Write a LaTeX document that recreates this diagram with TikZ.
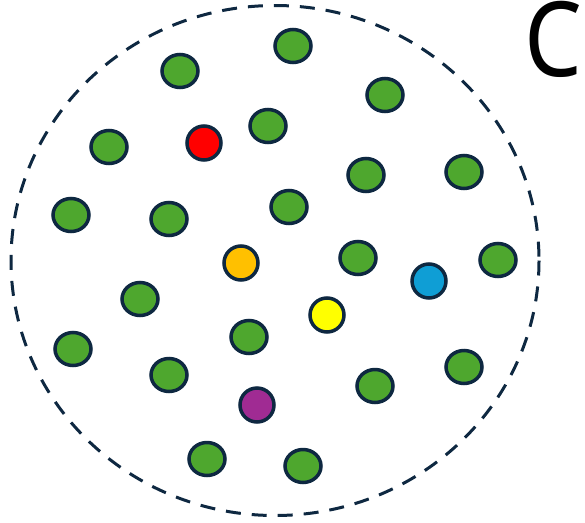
\documentclass[tikz,border=0pt]{standalone}
\usepackage{fontspec}
\newfontfamily\rotulofont{Noto Sans}
\usetikzlibrary{shapes.geometric}

\definecolor{verde}{HTML}{4EA72E}
\definecolor{contorno}{HTML}{0E2841}
\definecolor{laranja}{HTML}{FFC000}
\definecolor{amarelo}{HTML}{FFFF00}
\definecolor{azul}{HTML}{0F9ED5}
\definecolor{roxo}{HTML}{A02B93}

\begin{document}
\begin{tikzpicture}[
    x=1pt, y=-1pt,
    % Estilo dos pontos: elipse com borda escura
    ponto/.style={ellipse, draw=contorno, line width=3.5pt, inner sep=0pt,
                  minimum width=36pt, minimum height=33pt, fill=verde},
    destaque/.style={ponto, minimum width=34pt, minimum height=34pt}
]

% === PARÂMETROS DO CONJUNTO ===
\def\centroX{275}
\def\centroY{260.5}
\def\raioX{264}
\def\raioY{255}

\useasboundingbox (0,0) rectangle (585,522);

% --- Fronteira tracejada do conjunto ---
\draw[contorno, line width=3pt, dash pattern=on 15pt off 11pt]
    (\centroX,\centroY) ellipse [x radius=\raioX, y radius=\raioY];

% --- Rótulo ---
\node[inner sep=0pt, xscale=0.88, font=\rotulofont\fontsize{104}{104}\selectfont] (rotulo) at (553,39.5) {C};

% --- Pontos verdes ---
\node[ponto] (G1)  at (180, 71) {};
\node[ponto] (G2)  at (293, 46) {};
\node[ponto] (G3)  at (385, 95) {};
\node[ponto] (G4)  at (109,147) {};
\node[ponto] (G5)  at (268,126) {};
\node[ponto] (G6)  at (366,175) {};
\node[ponto] (G7)  at (464,172) {};
\node[ponto] (G8)  at ( 71,215) {};
\node[ponto] (G9)  at (169,219) {};
\node[ponto] (G10) at (289,207) {};
\node[ponto] (G11) at (358,258) {};
\node[ponto] (G12) at (498,260) {};
\node[ponto] (G13) at (140,299) {};
\node[ponto] (G14) at (249,337) {};
\node[ponto] (G15) at ( 73,349) {};
\node[ponto] (G16) at (169,375) {};
\node[ponto] (G17) at (375,386) {};
\node[ponto] (G18) at (464,367) {};
\node[ponto] (G19) at (207,459) {};
\node[ponto] (G20) at (303,466) {};

% --- Pontos destacados ---
\node[destaque, fill=red]     (Vermelho) at (204,143) {};
\node[destaque, fill=laranja] (Laranja)  at (241,263) {};
\node[destaque, fill=amarelo] (Amarelo)  at (327,315) {};
\node[destaque, fill=azul]    (Azul)     at (429,281) {};
\node[destaque, fill=roxo]    (Roxo)     at (257,405) {};

\end{tikzpicture}
\end{document}
